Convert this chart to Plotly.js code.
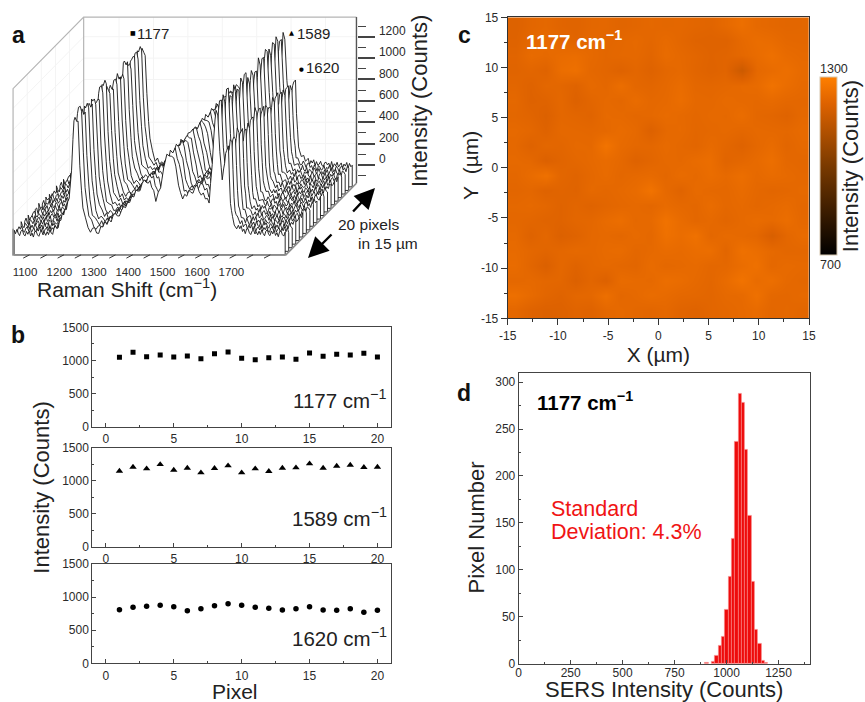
<!DOCTYPE html>
<html>
<head>
<meta charset="utf-8">
<script src="https://cdn.plot.ly/plotly-3.0.1.min.js"></script>
<style>html,body{margin:0;padding:0;background:#fff}#chart{width:865px;height:702px}</style>
</head>
<body>
<div id="chart"></div>
<script>
// ---------- Panel a: Raman spectrum as read from the front row ----------
const ramanShift = [
 1000,1004,1008,1012,1016,1020,1024,1028,1032,1036,1040,1044,1048,1052,1056,1060,1064,1068,1072,1076,
 1080,1084,1088,1092,1096,1100,1104,1108,1112,1116,1120,1124,1128,1132,1136,1140,1144,1148,1152,1156,
 1160,1167,1171,1174,1177,1182,1186,1191,1196,1200,1207,1215,1222,
 1228,1234,1240,1246,1252,1258,1264,1270,1276,1282,1288,1294,1300,1306,1312,1318,1324,1330,1336,1342,1348,1354,1360,1366,1372,1378,1384,
 1390,1395,1400,1406,1412,1419,1426,1435,1444,1451,1458,1464,1470,1478,
 1484,1490,1496,1502,1508,1514,1520,1526,1532,1538,1544,1550,1556,1562,
 1567,1571,1576,1580,1584,1587,1592,1598,1602,1605,1609,1612,1615,1618,1623,1626,1629,1632,1635,1640,1647,1652,
 1656,1660,1664,1668,1672,1676,1680,1684,1688,1692,1696,1700,1704,1708,1712,1716,1720,1724,1728,1732,1736,1740,1744,1748,1752,1756,1760,1764,1768,1772,1776,1780,1784,1788];
const frontSpectrum = [
 15,11,8,5,3,1,0,-2,-3,-5,-6,-7,-8,-8,-8,-8,-7,-6,-5,-4,
 -3,-2,-1,0,0,3,5,8,15,26,38,55,72,93,125,155,188,215,250,275,
 298,600,900,1040,1060,1060,1040,650,383,253,123,59,35,
 28,20,13,20,40,62,80,100,118,133,148,160,172,185,200,225,253,280,308,333,355,376,400,423,445,468,488,
 490,470,433,368,315,373,453,593,713,733,743,693,603,463,
 370,340,350,362,375,388,400,412,419,400,378,355,325,295,
 300,453,673,853,1033,1160,1130,753,593,513,593,673,733,790,790,513,303,193,123,88,63,52,
 46,40,34,28,24,20,16,13,11,9,8,7,6,5,5,4,3,3,2,1,1,0,-1,-1,-2,-3,-3,-4,-5,-5,-5,-4,-3,-1];
// hand-read wiggle of the individual traces (counts)
const traceRipple = [
 [12,-18,25,-8,-28,16,30,-14,-24,20,-6,28,-20,8,-30,18,24,-12,-26,10,22,-16,6,-22],
 [-20,14,-6,26,-16,-28,12,24,-10,30,-22,4,18,-26,14,-8,28,-18,20,-30,6,16,-12,26],
 [24,-10,-26,18,6,-20,28,-16,10,-24,26,-4,-30,22,-12,16,-22,30,-6,-18,24,-28,14,2],
 [-8,28,-18,-30,22,10,-14,26,-24,6,16,-28,20,-10,30,-20,4,-16,26,12,-26,18,-4,-14],
 [18,-24,8,22,-14,28,-30,6,16,-20,-8,24,-12,26,-18,2,30,-24,-10,20,14,-22,28,-6],
 [-26,10,30,-12,-22,14,4,-28,24,-6,18,-16,28,-30,8,22,-10,12,-20,26,-14,6,-24,30],
 [6,22,-28,14,26,-18,-8,30,-20,12,-26,16,-4,24,-14,-30,20,8,28,-12,-22,10,26,-16],
 [28,-14,2,-24,18,-6,22,-26,12,26,-10,-20,30,-8,-16,24,-28,14,4,-22,16,28,-18,-2],
 [-12,26,-22,8,-4,30,-18,16,-28,-14,24,6,-24,18,28,-10,12,-26,22,2,-30,20,8,-20],
 [20,-4,14,-26,30,-22,10,-8,26,-18,2,22,-28,12,-6,28,-24,18,-14,-2,26,-12,-20,16]
];

// ---------- Panel b: peak intensities per pixel ----------
const pixels = [1,2,3,4,5,6,7,8,9,10,11,12,13,14,15,16,17,18,19,20];
const peak1177 = [1047,1122,1057,1082,1052,1067,1027,1102,1127,1032,1012,1042,1052,1017,1112,1062,1092,1082,1107,1052];
const peak1589 = [1147,1208,1183,1248,1163,1193,1122,1188,1228,1122,1183,1143,1193,1198,1258,1193,1223,1238,1203,1208];
const peak1620 = [810,846,861,876,856,795,825,871,901,876,846,830,805,825,856,805,800,825,770,800];

// ---------- Panel c: SERS map, rows from y = +15 down to y = -15 ----------
const mapAxis = [-14.25,-12.75,-11.25,-9.75,-8.25,-6.75,-5.25,-3.75,-2.25,-0.75,0.75,2.25,3.75,5.25,6.75,8.25,9.75,11.25,12.75,14.25];
const mapTopDown = [
 [1208,1222,1228,1218,1215,1224,1226,1218,1222,1228,1224,1226,1222,1218,1232,1250,1232,1226,1222,1224],
 [1212,1228,1236,1224,1218,1230,1222,1226,1232,1224,1236,1224,1214,1212,1212,1232,1244,1240,1228,1226],
 [1218,1238,1232,1240,1244,1232,1224,1228,1230,1220,1240,1230,1222,1214,1218,1228,1240,1254,1238,1232],
 [1216,1222,1214,1246,1254,1228,1222,1212,1224,1212,1226,1232,1220,1212,1218,1172,1230,1240,1250,1236],
 [1222,1212,1226,1224,1214,1234,1226,1248,1226,1222,1230,1242,1226,1224,1228,1234,1238,1262,1244,1232],
 [1228,1210,1214,1228,1208,1222,1232,1226,1242,1228,1232,1246,1230,1228,1236,1232,1230,1236,1228,1226],
 [1224,1218,1206,1226,1222,1216,1234,1232,1226,1230,1238,1232,1226,1232,1230,1244,1226,1222,1214,1230],
 [1232,1226,1212,1230,1228,1226,1230,1240,1232,1208,1230,1234,1224,1228,1232,1226,1232,1230,1228,1236],
 [1228,1212,1226,1222,1232,1230,1266,1236,1228,1226,1236,1228,1222,1236,1224,1212,1228,1240,1222,1232],
 [1232,1228,1206,1218,1226,1232,1240,1230,1212,1222,1232,1230,1240,1246,1218,1226,1236,1250,1228,1224],
 [1226,1240,1258,1224,1216,1228,1238,1226,1232,1236,1226,1240,1232,1244,1234,1248,1232,1240,1234,1228],
 [1222,1226,1212,1218,1214,1232,1226,1232,1240,1264,1232,1216,1236,1230,1228,1240,1228,1222,1226,1232],
 [1228,1232,1226,1214,1222,1214,1222,1228,1232,1226,1238,1230,1226,1242,1228,1234,1226,1232,1238,1226],
 [1226,1222,1216,1214,1224,1226,1238,1248,1230,1234,1262,1240,1226,1232,1222,1232,1240,1234,1246,1228],
 [1232,1212,1226,1206,1214,1228,1232,1226,1236,1228,1256,1244,1258,1226,1236,1232,1226,1198,1226,1238],
 [1236,1226,1220,1226,1232,1228,1236,1240,1226,1232,1240,1236,1244,1248,1222,1256,1246,1232,1224,1226],
 [1240,1222,1204,1228,1214,1226,1232,1226,1222,1240,1228,1232,1236,1226,1228,1244,1256,1228,1236,1232],
 [1228,1232,1226,1224,1206,1222,1208,1240,1236,1232,1248,1242,1232,1224,1240,1264,1240,1250,1232,1226],
 [1252,1236,1222,1214,1226,1228,1252,1226,1232,1242,1236,1228,1226,1222,1232,1234,1256,1228,1226,1232],
 [1226,1212,1206,1208,1216,1212,1228,1232,1226,1222,1228,1216,1212,1222,1226,1232,1238,1224,1228,1222]
];
const mapColorStops = [[0,'#000000'],[0.5,'#7a3a00'],[0.85,'#de6200'],[1,'#ff7f00']];

// ---------- Panel d: histogram ----------
const binCenters = [904,936,952,968,984,1000,1016,1032,1048,1064,1080,1096,1112,1128,1144,1160,1176,1192];
const binCounts = [1,2,9,19,29,58,93,133,237,288,278,228,158,87,36,21,3,1];

// ---------- Text ----------
const wavenumberTicks = [1100,1200,1300,1400,1500,1600,1700];
const intensityTicks = [0,200,400,600,800,1000,1200];
const mapTicks = [-15,-10,-5,0,5,10,15];
const mapTickText = ['-15','-10','-5','0','5','10','15'];
const titleFont = 'Liberation Sans, Arial, sans-serif';
const darkText = '#222222', tickText = '#2a2a2a', axisLine = '#444444';

// ---------- Oblique projection of panel a, through ordinary cartesian axes ----------
const obliqueDepthX = 10.26;    // axis units of wavenumber per row of depth
const obliqueDepthY = 33.5;     // axis units of counts per row of depth
const frontOriginY = -636;      // where zero counts of the front row sits on the counts axis
const wavenumberLabelShift = 68.3; // the printed scale sits to the left of the front trace
const floorLevel = -205;        // counts below the spectra where the box floor is
const wallTop = 1350;           // counts above floor reference where the box top is
const boxDepth = 20, boxW0 = 997, boxW1 = 1790;
const toX = (w, d) => w + wavenumberLabelShift + d * obliqueDepthX;
const toY = (c, d) => c + frontOriginY + d * obliqueDepthY;

function polyline(points) {
  return {x: points.map(p => p === null ? null : toX(p[0], p[1])),
          y: points.map(p => p === null ? null : toY(p[2], p[1]))};
}
function line3d(points, color, width) {
  const xy = polyline(points);
  return {type:'scatter', mode:'lines', x:xy.x, y:xy.y, xaxis:'x', yaxis:'y',
          line:{color:color, width:width, simplify:false}, hoverinfo:'skip', showlegend:false, connectgaps:false};
}

const traces = [];

// faint wall grids
{
  const grid = [];
  const offset = toY(0, boxDepth); // counts-axis value of zero counts on the back wall
  intensityTicks.concat([1400]).forEach(v => {
    const c = v - offset;
    if (c > wallTop) return;
    grid.push([boxW0, 0, c], [boxW0, boxDepth, c], [boxW1, boxDepth, c], null);
  });
  [1100,1200,1300,1400,1500,1600,1700].forEach(w => {
    grid.push([w, boxDepth, floorLevel], [w, boxDepth, wallTop], null);
  });
  [4,8,12,16].forEach(d => {
    grid.push([boxW0, d, floorLevel], [boxW0, d, wallTop], null);
  });
  traces.push(line3d(grid, '#f4f4f4', 1));
}
// box outline
traces.push(line3d([
  [boxW0,0,floorLevel],[boxW0,0,wallTop],[boxW0,boxDepth,wallTop],[boxW1,boxDepth,wallTop],null,
  [boxW0,boxDepth,wallTop],[boxW0,boxDepth,floorLevel]
], '#b5b5b5', 1.2));
traces.push(line3d([[boxW1,boxDepth,wallTop],[boxW1,boxDepth,floorLevel]], '#555555', 1.4));

// one filled trace per pixel, back row first so front rows hide it
for (let r = pixels.length - 1; r >= 0; r--) {
  const f1 = peak1177[r] / peak1177[0], f2 = peak1589[r] / peak1589[0], f3 = peak1620[r] / peak1620[0];
  const ripple = traceRipple[r % traceRipple.length];
  const pts = [[ramanShift[0], r, floorLevel]];
  ramanShift.forEach((w, i) => {
    let c = frontSpectrum[i];
    if (w >= 1160 && w <= 1215) c *= f1;
    else if (w >= 1565 && w <= 1603) c *= f2;
    else if (w >= 1606 && w <= 1640) c *= f3;
    c += ripple[i % ripple.length];
    pts.push([w, r, c]);
  });
  pts.push([ramanShift[ramanShift.length - 1], r, floorLevel]);
  pts.push(pts[0]);
  const xy = polyline(pts);
  traces.push({type:'scatter', mode:'lines', x:xy.x, y:xy.y, xaxis:'x', yaxis:'y', fill:'toself', fillcolor:'#ffffff',
    line:{color:'#151515', width:0.9, simplify:false}, hoverinfo:'skip', showlegend:false});
}
// front edge of the box and the slanted floor ticks
traces.push(line3d([[boxW0,0,40],[boxW0,0,floorLevel],[boxW1,0,floorLevel],[boxW1,boxDepth,floorLevel]], '#8c8c8c', 1.6));
{
  const t = [];
  const ticks = [1100,1150,1200,1250,1300,1350,1400,1450,1500,1550,1600,1650,1700,1750,1800];
  ticks.forEach(v => { const w = v - wavenumberLabelShift + 13; t.push([w,0,floorLevel],[w-9,-0.9,floorLevel],null); });
  traces.push(line3d(t, '#333333', 1));
}

// panel b
[[peak1177,'square',5,'x2','y2'],[peak1589,'triangle-up',6.5,'x3','y3'],[peak1620,'circle',5.5,'x4','y4']].forEach(s => {
  traces.push({type:'scatter', mode:'markers', x:pixels, y:s[0], xaxis:s[3], yaxis:s[4],
    marker:{symbol:s[1], size:s[2], color:'#000000'}, showlegend:false, hoverinfo:'x+y'});
});

// panel c
traces.push({type:'heatmap', x:mapAxis, y:mapAxis.slice().reverse(), z:mapTopDown, xaxis:'x5', yaxis:'y5',
  zmin:700, zmax:1300, zsmooth:'best', colorscale:mapColorStops, hoverinfo:'z',
  colorbar:{x:820.3/865, xanchor:'left', y:1-255/702, yanchor:'bottom', lenmode:'pixels', len:178.3,
    thicknessmode:'pixels', thickness:17, xpad:0, ypad:0, outlinewidth:1, outlinecolor:'#d8c8b0', ticks:'', showticklabels:false,
    title:{text:'Intensity (Counts)', side:'right', font:{family:titleFont, size:22, color:darkText}}}});

// panel d
traces.push({type:'bar', x:binCenters, y:binCounts, xaxis:'x6', yaxis:'y6', width:16,
  marker:{color:'#ee0c0c', line:{color:'#f78a8a', width:0.6}}, showlegend:false, hoverinfo:'x+y'});

// ---------- layout helpers ----------
const xd = (l, r) => [l/865, r/865];
const yd = (t, b) => [1-b/702, 1-t/702];
const tickFont = {family:titleFont, size:12, color:tickText};
function boxedAxis(extra) {
  return Object.assign({showgrid:false, zeroline:false, showline:true, mirror:true, linecolor:axisLine, linewidth:1,
    ticks:'inside', ticklen:4, tickwidth:1, tickcolor:axisLine, tickfont:tickFont}, extra);
}
const pixelAxis = () => boxedAxis({domain:xd(92.3,391), range:[-1,21], tickvals:[0,5,10,15,20],
  minor:{tickvals:[2.5,7.5,12.5,17.5], ticks:'inside', ticklen:2, tickcolor:axisLine}, ticklabelstandoff:1});
const countAxis = () => boxedAxis({range:[0,1500], tickvals:[0,500,1000,1500],
  minor:{tickvals:[250,750,1250], ticks:'inside', ticklen:2, tickcolor:axisLine}});

const note = (text, x, y, o) => {
  const a = Object.assign({text:text, xref:'paper', yref:'paper', showarrow:false, xanchor:'left', yanchor:'middle',
    font:{family:titleFont, size:20.5, color:darkText}}, o||{});
  a.x = (a.xanchor === 'left' ? x - 2 : x) / 865;
  a.y = 1 - y / 702;
  return a;
};
const bigFont = {family:titleFont, size:21, color:darkText};
const tallFont = {family:titleFont, size:22, color:darkText};
const peakFont = {family:titleFont, size:15, color:darkText};
const panelFont = {family:titleFont, size:23, color:'#111111'};
const sup = '<sup>\u22121</sup>';

const arrow = (fromX, fromY, toPx, toPy) => ({x:toPx/865, y:1-toPy/702, xref:'paper', yref:'paper',
  ax:fromX/865, ay:1-fromY/702, axref:'paper', ayref:'paper', text:'', showarrow:true,
  arrowhead:2, arrowsize:1.7, arrowwidth:2.4, arrowcolor:'#000000'});

const annotations = [
  note('<b>a</b>', 12, 35, {font:panelFont}),
  note('<b>b</b>', 11, 335, {font:panelFont}),
  note('<b>c</b>', 458, 35, {font:panelFont}),
  note('<b>d</b>', 457, 393, {font:panelFont}),
  note('\u25A0', 130, 32.7, {font:{family:'DejaVu Sans', size:6, color:'#000'}}),
  note('1177', 137.3, 33, {font:peakFont}),
  note('\u25B2', 288.5, 32.7, {font:{family:'DejaVu Sans', size:6.5, color:'#000'}}),
  note('1589', 296.7, 33, {font:peakFont}),
  note('\u25CF', 298.5, 69, {font:{family:'DejaVu Sans', size:5.5, color:'#000'}}),
  note('1620', 306.3, 68, {font:peakFont}),
  note('20 pixels', 338, 225, {font:{family:titleFont, size:15.5, color:darkText}}),
  note('in 15 \u00B5m', 358, 243, {font:{family:titleFont, size:15.5, color:darkText}}),
  arrow(351.7, 213, 375, 188),
  arrow(333, 233, 308, 258),
  note('Raman Shift (cm'+sup+')', 126.7, 288, {xanchor:'center', font:bigFont}),
  note('Intensity (Counts)', 419, 101, {xanchor:'center', textangle:-90, font:tallFont}),
  note('Intensity (Counts)', 40.7, 488, {xanchor:'center', textangle:-90, font:tallFont}),
  note('Pixel', 235, 691, {xanchor:'center', font:bigFont}),
  note('Y\u00A0\u00A0(\u00B5m)', 471, 166, {xanchor:'center', textangle:-90, font:bigFont}),
  note('1177 cm'+sup, 388, 399, {xanchor:'right'}),
  note('1589 cm'+sup, 389, 517, {xanchor:'right'}),
  note('1620 cm'+sup, 389, 637, {xanchor:'right'}),
  note('<b>1177 cm'+sup+'</b>', 526, 40, {font:{family:titleFont, size:20.5, color:'#ffffff'}}),
  note('<b>1177 cm'+sup+'</b>', 536.7, 401, {font:{family:titleFont, size:20.5, color:'#000000'}}),
  note('1300', 834, 69, {xanchor:'center', font:{family:titleFont, size:12.5, color:tickText}}),
  note('700', 830, 265, {xanchor:'center', font:{family:titleFont, size:12.5, color:tickText}}),
  note('Standard', 550.7, 509, {font:{family:titleFont, size:21.5, color:'#f01414'}}),
  note('Deviation: 4.3%', 550.7, 531.7, {font:{family:titleFont, size:21.5, color:'#f01414'}}),
  note('Pixel Number', 475.5, 528, {xanchor:'center', textangle:-90, font:tallFont})
];

const layout = {
  width:865, height:702, margin:{l:0,r:0,t:0,b:0,autoexpand:false}, paper_bgcolor:'#ffffff', plot_bgcolor:'rgba(0,0,0,0)',
  showlegend:false, bargap:0, annotations:annotations,
  // panel a
  xaxis:{domain:xd(0,430), range:[1027.3,2277.3], showgrid:false, zeroline:false, showline:false, ticks:'',
    tickvals:wavenumberTicks, tickfont:{family:titleFont, size:11.5, color:tickText}, ticklabelstandoff:1, anchor:'y'},
  yaxis:{domain:yd(0,262), range:[-907.4,1543.5], showgrid:false, zeroline:false, showline:false, side:'right',
    anchor:'free', position:356.5/865, ticks:'outside', ticklen:17, tickwidth:1.5, tickcolor:'#444444',
    tickvals:intensityTicks, tickfont:{family:titleFont, size:12, color:tickText}, ticklabelshift:-6, ticklabelstandoff:2,
    minor:{tickvals:[-100,100,300,500,700,900,1100,1300], ticks:'outside', ticklen:8, tickwidth:1.3, tickcolor:'#444444'}},
  // panel b
  xaxis2:Object.assign(pixelAxis(), {anchor:'y2'}),
  yaxis2:Object.assign(countAxis(), {domain:yd(327.3,426.7), anchor:'x2'}),
  xaxis3:Object.assign(pixelAxis(), {anchor:'y3'}),
  yaxis3:Object.assign(countAxis(), {domain:yd(447.7,547), anchor:'x3'}),
  xaxis4:Object.assign(pixelAxis(), {anchor:'y4'}),
  yaxis4:Object.assign(countAxis(), {domain:yd(564,663.3), anchor:'x4'}),
  // panel c
  xaxis5:{domain:xd(507.7,809), range:[-15,15], anchor:'y5', showgrid:false, zeroline:false, showline:true, mirror:true,
    linecolor:'#333333', ticks:'outside', ticklen:6, tickcolor:'#333333', tickfont:tickFont,
    tickvals:mapTicks, ticktext:mapTickText, minor:{tickvals:[-12.5,-7.5,-2.5,2.5,7.5,12.5], ticks:'outside', ticklen:3, tickcolor:'#333333'},
    automargin:true, title:{text:'X (\u00B5m)', standoff:0, font:bigFont}},
  yaxis5:{domain:yd(17.3,318.3), range:[-15,15], anchor:'x5', showgrid:false, zeroline:false, showline:true, mirror:true,
    linecolor:'#333333', ticks:'outside', ticklen:6, tickcolor:'#333333', tickfont:tickFont,
    tickvals:mapTicks, ticktext:mapTickText, minor:{tickvals:[-12.5,-7.5,-2.5,2.5,7.5,12.5], ticks:'outside', ticklen:3, tickcolor:'#333333'}},
  // panel d
  xaxis6:boxedAxis({domain:xd(518.7,809.7), range:[0,1400], anchor:'y6', tickvals:[0,250,500,750,1000,1250],
    minor:{tickvals:[125,375,625,875,1125,1375], ticks:'inside', ticklen:2, tickcolor:axisLine}, ticklabelstandoff:-2,
    automargin:true, title:{text:'SERS Intensity (Counts)', standoff:10, font:tallFont}}),
  yaxis6:boxedAxis({domain:yd(372.7,663.7), range:[0,310], anchor:'x6', tickvals:[0,50,100,150,200,250,300],
    minor:{tickvals:[25,75,125,175,225,275], ticks:'inside', ticklen:2, tickcolor:axisLine}})
};

Plotly.newPlot('chart', traces, layout, {displayModeBar:false, responsive:false});
</script>
</body>
</html>
